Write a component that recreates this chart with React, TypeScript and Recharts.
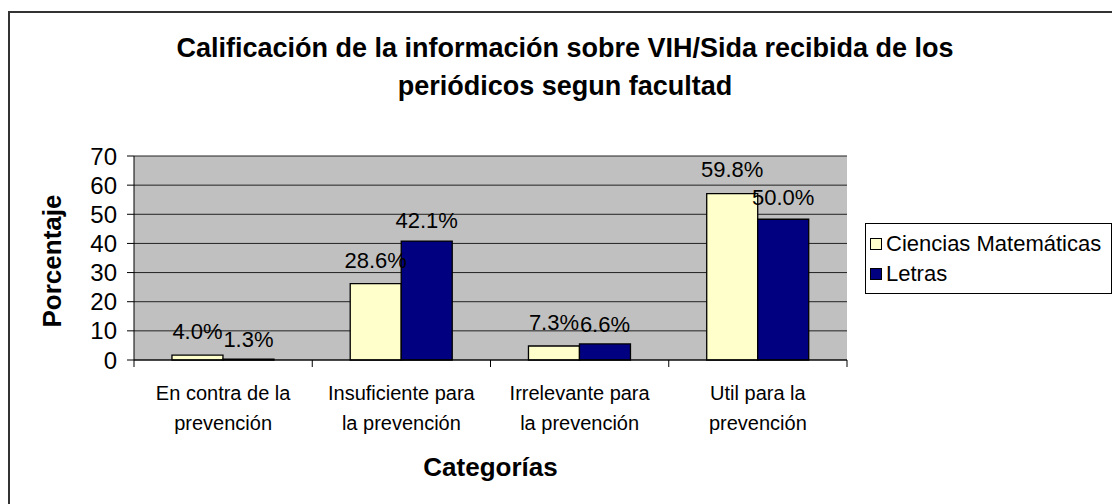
import React from 'react';
import { BarChart, Bar, XAxis, YAxis, CartesianGrid, LabelList, Legend } from 'recharts';

const categories: string[][] = [
  ['En contra de la', 'prevención'],
  ['Insuficiente para', 'la prevención'],
  ['Irrelevante para', 'la prevención'],
  ['Util para la', 'prevención'],
];
const seriesNames = ['Ciencias Matemáticas', 'Letras'];
const ciencias = [1.7, 26.2, 4.8, 57.1];
const letras = [0.3, 40.8, 5.5, 48.3];
const cienciasLabels = [4.0, 28.6, 7.3, 59.8];
const letrasLabels = [1.3, 42.1, 6.6, 50.0];
const yTicks = [0, 10, 20, 30, 40, 50, 60, 70];

const COLORS = ['#FFFFCC', '#000080'];
const FONT = '"Liberation Sans", Arial, sans-serif';

const W = 1112;
const H = 504;
const PLOT_LEFT = 134;
const PLOT_RIGHT = 847;
const PLOT_TOP = 156;
const PLOT_BOTTOM = 360;

const data = categories.map((c, i) => ({
  name: c.join(' '),
  cm: ciencias[i],
  le: letras[i],
}));

const HALF_BAND = (PLOT_RIGHT - PLOT_LEFT) / categories.length / 2;

const CatTick = (props: any) => {
  const { x, y, payload, index } = props;
  const idx = typeof index === 'number' ? index : data.findIndex((d) => d.name === payload.value);
  const lines = categories[idx] || [String(payload.value)];
  return (
    <g>
      {idx === 0 && <line x1={x - HALF_BAND} x2={x - HALF_BAND} y1={y} y2={y + 7} stroke="#000" />}
      <line x1={x + HALF_BAND} x2={x + HALF_BAND} y1={y} y2={y + 7} stroke="#000" />
      {lines.map((l, k) => (
        <text
          key={k}
          x={x}
          y={y + 40 + k * 30}
          textAnchor="middle"
          fontSize={20}
          fontFamily={FONT}
          fill="#000"
        >
          {l}
        </text>
      ))}
    </g>
  );
};

const makeLabel = (vals: number[], labels: number[]) => (props: any) => {
  const { x, y, width, height, index } = props;
  const v = vals[index];
  const base = y + height;
  const ppu = height / v;
  const ly = base - labels[index] * ppu - 9;
  return (
    <text x={x + width / 2} y={ly} textAnchor="middle" fontSize={22} fontFamily={FONT} fill="#000">
      {labels[index].toFixed(1)}%
    </text>
  );
};

const LegendBox = () => (
  <div
    style={{
      border: '1px solid #000',
      background: '#fff',
      width: 247,
      height: 71,
      boxSizing: 'border-box',
      paddingTop: 5,
      paddingLeft: 4,
      fontFamily: FONT,
      fontSize: 22,
      color: '#000',
    }}
  >
    {seriesNames.map((n, i) => (
      <div key={n} style={{ display: 'flex', alignItems: 'center', height: 30, whiteSpace: 'nowrap' }}>
        <span
          style={{
            display: 'inline-block',
            width: 10,
            height: 10,
            border: '1px solid #000',
            background: COLORS[i],
            marginRight: 4,
            flexShrink: 0,
          }}
        />
        <span>{n}</span>
      </div>
    ))}
  </div>
);

export default function App() {
  return (
    <div style={{ position: 'absolute', left: 0, top: 0, width: W, height: H, overflow: 'hidden', background: '#fff' }}>
      <div
        style={{
          position: 'absolute',
          left: 8,
          top: 11,
          width: W + 20,
          height: H + 20,
          border: '2px solid #333',
          boxSizing: 'border-box',
        }}
      />
      <div
        style={{
          position: 'absolute',
          left: 0,
          top: 29,
          width: 1130,
          textAlign: 'center',
          fontFamily: FONT,
          fontWeight: 'bold',
          fontSize: 27,
          lineHeight: '38px',
          color: '#000',
        }}
      >
        <div>Calificación de la información sobre VIH/Sida recibida de los</div>
        <div>periódicos segun facultad</div>
      </div>
      <div style={{ position: 'absolute', left: 0, top: 0 }}>
        <BarChart
          width={W}
          height={H}
          data={data}
          margin={{ top: PLOT_TOP, right: W - PLOT_RIGHT, bottom: 0, left: 0 }}
          barCategoryGap="21.3%"
          barGap={0}
        >
          <CartesianGrid vertical={false} stroke="#222" fill="#C0C0C0" fillOpacity={1} />
          <XAxis
            dataKey="name"
            height={H - PLOT_BOTTOM}
            tick={<CatTick />}
            tickLine={false}
            tickSize={0}
            tickMargin={0}
            interval={0}
            axisLine={{ stroke: '#000' }}
            label={{
              content: (p: any) => {
                const vb = p.viewBox || { x: PLOT_LEFT, y: PLOT_BOTTOM, width: PLOT_RIGHT - PLOT_LEFT };
                return (
                  <text
                    x={vb.x + vb.width / 2}
                    y={vb.y + 116}
                    textAnchor="middle"
                    fontSize={26}
                    fontWeight="bold"
                    fontFamily={FONT}
                    fill="#000"
                  >
                    Categorías
                  </text>
                );
              },
            }}
          />
          <YAxis
            width={PLOT_LEFT}
            domain={[0, 70]}
            ticks={yTicks}
            interval={0}
            tickSize={7}
            tickMargin={10}
            tick={{ fontSize: 24, fontFamily: FONT, fill: '#000' }}
            axisLine={{ stroke: '#000' }}
            tickLine={{ stroke: '#000' }}
            label={{
              content: (p: any) => {
                const vb = p.viewBox || { x: 0, y: PLOT_TOP, height: PLOT_BOTTOM - PLOT_TOP };
                const cy = vb.y + vb.height / 2 + 3;
                return (
                  <text
                    transform={`translate(${vb.x + 61},${cy}) rotate(-90)`}
                    textAnchor="middle"
                    fontSize={26}
                    fontWeight="bold"
                    fontFamily={FONT}
                    fill="#000"
                  >
                    Porcentaje
                  </text>
                );
              },
            }}
          />
          <YAxis
            yAxisId="r"
            orientation="right"
            width={0}
            tick={false}
            tickLine={false}
            axisLine={{ stroke: '#808080' }}
          />
          <Legend
            layout="horizontal"
            verticalAlign="middle"
            align="center"
            content={<LegendBox />}
            wrapperStyle={{ left: 865, top: 223, width: 247, height: 71 }}
          />
          <Bar dataKey="cm" name={seriesNames[0]} fill={COLORS[0]} stroke="#000" strokeWidth={1.3} isAnimationActive={false}>
            <LabelList dataKey="cm" content={makeLabel(ciencias, cienciasLabels)} />
          </Bar>
          <Bar dataKey="le" name={seriesNames[1]} fill={COLORS[1]} stroke="#000" strokeWidth={1.3} isAnimationActive={false}>
            <LabelList dataKey="le" content={makeLabel(letras, letrasLabels)} />
          </Bar>
        </BarChart>
      </div>
    </div>
  );
}
